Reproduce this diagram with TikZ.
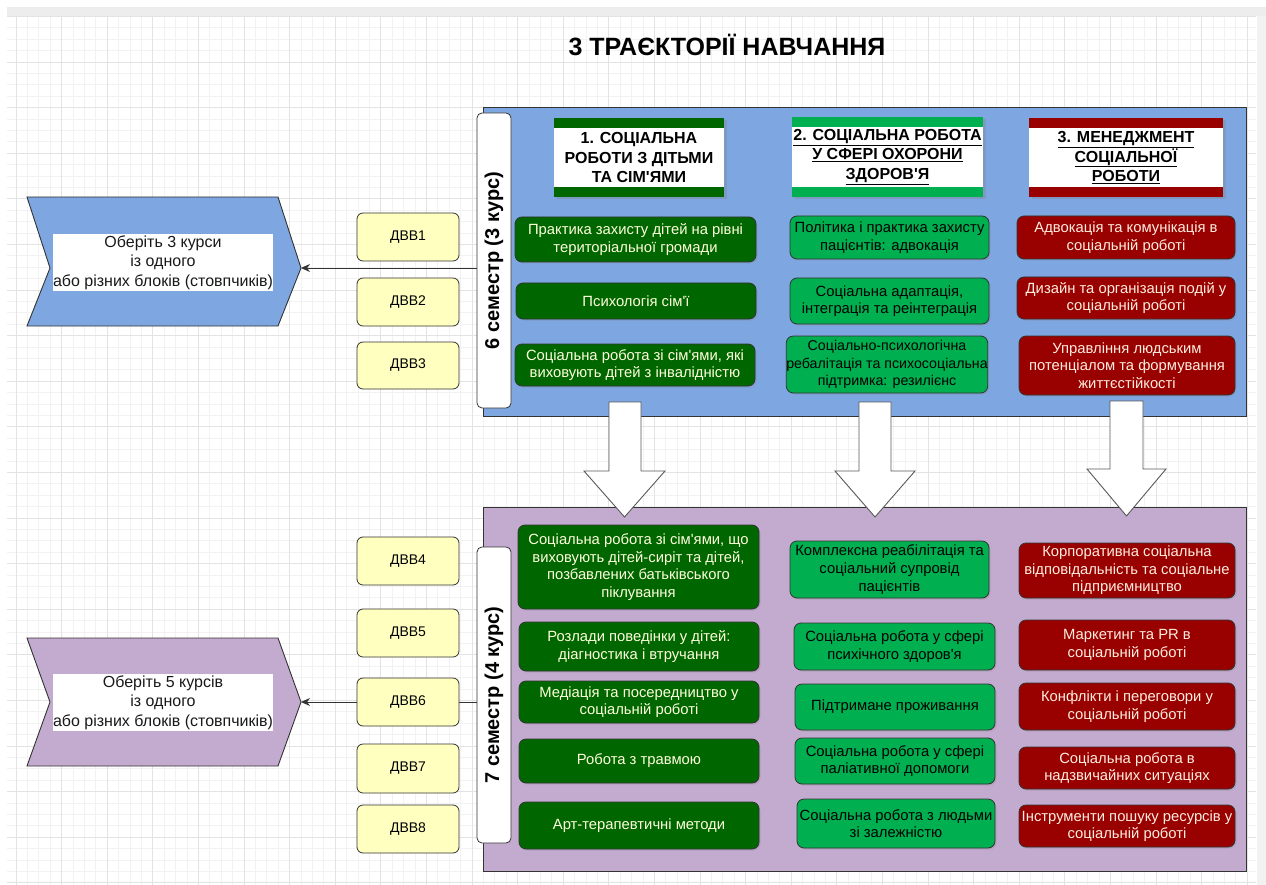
\documentclass[tikz,border=0pt]{standalone}
\usepackage{fontspec}
\setmainfont{Liberation Sans}
\newfontfamily\arialf{Liberation Sans}
\usepackage{graphicx}
\usetikzlibrary{arrows.meta,shadows}
\definecolor{bluebox}{HTML}{7EA6E0}
\definecolor{purplebox}{HTML}{C3ABD0}
\definecolor{dkgreen}{HTML}{006600}
\definecolor{brgreen}{HTML}{00B050}
\definecolor{dkred}{HTML}{990000}
\definecolor{ylw}{HTML}{FFFFC0}
\definecolor{cream}{HTML}{FFFFDD}
\definecolor{pinkc}{HTML}{FFEEE0}
\definecolor{gridmaj}{HTML}{E3E3E3}
\definecolor{gridmin}{HTML}{F2F2F2}
\definecolor{edge}{HTML}{333333}
\newcommand\cardfont{\arialf\fontsize{14.8}{17.6}\selectfont}
\newcommand\smallcardfont{\arialf\fontsize{14.2}{17.6}\selectfont}
\newcommand\hdrfont{\arialf\fontsize{16}{19.5}\selectfont\bfseries}
\newcommand\semfont{\arialf\fontsize{20}{22}\selectfont\bfseries}
\newcommand\dvvfont{\arialf\fontsize{14}{16}\selectfont}
\newcommand\chevfont{\arialf\fontsize{16}{19.5}\selectfont}
\begin{document}
\begin{tikzpicture}[x=1pt,y=-1pt,
  card/.style={draw=edge, line width=0.8pt, rounded corners=7pt, inner sep=0pt, align=center, font=\cardfont,
    drop shadow={opacity=0.25, shadow xshift=1.5pt, shadow yshift=-1.5pt}},
  dg/.style={card, fill=dkgreen, text=cream},
  bg/.style={card, fill=brgreen, text=black},
  rd/.style={card, fill=dkred, text=pinkc},
  hdr/.style={fill=white, inner sep=0pt, align=center, font=\hdrfont,
    drop shadow={opacity=0.3, shadow xshift=2.5pt, shadow yshift=-2.5pt},
    path picture={
      \fill[#1] (path picture bounding box.north west) rectangle ([yshift=-10pt]path picture bounding box.north east);
      \fill[#1] (path picture bounding box.south west) rectangle ([yshift=10pt]path picture bounding box.south east);}},
  dvv/.style={draw=edge, line width=0.8pt, rounded corners=6pt, fill=ylw, minimum width=102pt, font=\dvvfont},
  sem/.style={draw=edge, line width=0.8pt, rounded corners=5pt, fill=white, minimum width=34pt, inner sep=0pt},
  container/.style={draw=edge, line width=1pt},
  bigarrow/.style={draw=black!65, line width=0.9pt, fill=white, line join=miter},
  chev/.style={draw=edge, line width=0.9pt},
  chevtext/.style={fill=white, inner sep=0pt, minimum width=220pt, align=center, font=\chevfont, text=black!90},
  conn/.style={draw=edge, line width=0.9pt, -{Stealth[length=9pt,width=8pt]}}
]
\useasboundingbox (0,0) rectangle (1266,885);
\fill[white] (0,0) rectangle (1266,885);
% grid
\foreach \i in {0,...,108} {\draw[gridmin, line width=0.8pt] ({16+11.4*\i},16) -- ({16+11.4*\i},885);}
\foreach \i in {0,...,76} {\draw[gridmin, line width=0.8pt] (7,{16.4+11.4*\i}) -- (1256,{16.4+11.4*\i});}
\foreach \i in {0,...,27} {\draw[gridmaj, line width=0.8pt] ({16+45.6*\i},16) -- ({16+45.6*\i},885);}
\foreach \i in {0,...,19} {\draw[gridmaj, line width=0.8pt] (7,{16.4+45.6*\i}) -- (1256,{16.4+45.6*\i});}
\fill[black!7] (7,7) rectangle (1266,16);
\fill[black!5] (1257,16) rectangle (1266,885);

% title
\node[font=\arialf\fontsize{25}{28}\selectfont\bfseries] (title) at (727,45) {3 ТРАЄКТОРІЇ НАВЧАННЯ};

% containers
\draw[container, fill=bluebox] (483,108) rectangle (1246,416);
\draw[container, fill=purplebox] (483,507) rectangle (1246,871);

% semester labels
\node[sem, minimum height=295pt] (s6) at (494,260.5) {\rotatebox{90}{\semfont 6 семестр (3 курс)}};
\node[sem, minimum height=296pt] (s7) at (494,695) {\rotatebox{90}{\semfont 7 семестр (4 курс)}};

% chevrons
\draw[chev, fill=bluebox] (27,197) -- (278,197) -- (301,268) -- (278,326) -- (27,326) -- (50,268) -- cycle;
\draw[chev, fill=purplebox] (27,638) -- (278,638) -- (301,702) -- (278,766) -- (27,766) -- (50,702) -- cycle;
\coordinate (tip6) at (301,268);
\coordinate (tip7) at (301,702);
\node[chevtext, minimum height=57pt] (t6) at (163,262.5) {Оберіть 3 курси\\із одного\\або різних блоків (стовпчиків)};
\node[chevtext, minimum height=57pt] (t7) at (163,702.5) {Оберіть 5 курсів\\із одного\\або різних блоків (стовпчиків)};

% connectors
\draw[conn] (s6.west |- tip6) -- (tip6);
\draw[conn] (s7.west |- tip7) -- (tip7);

% DVV boxes
\node[dvv, minimum height=48pt] (v1) at (408,237) {ДВВ1};
\node[dvv, minimum height=48pt] (v2) at (408,302) {ДВВ2};
\node[dvv, minimum height=47pt] (v3) at (408,365.5) {ДВВ3};
\node[dvv, minimum height=48pt] (v4) at (408,561) {ДВВ4};
\node[dvv, minimum height=48pt] (v5) at (408,633) {ДВВ5};
\node[dvv, minimum height=48pt] (v6) at (408,702) {ДВВ6};
\node[dvv, minimum height=49pt] (v7) at (408,768.5) {ДВВ7};
\node[dvv, minimum height=48pt] (v8) at (408,829) {ДВВ8};

% headers
\node[hdr=dkgreen, minimum width=170pt, minimum height=79pt] (h1) at (639,157.5) {1. СОЦІАЛЬНА\\РОБОТИ З ДІТЬМИ\\ТА СІМ'ЯМИ};
\node[hdr=brgreen, minimum width=191pt, minimum height=80pt] (h2) at (887.5,157) {\underline{2. СОЦІАЛЬНА РОБОТА}\\\underline{У СФЕРІ ОХОРОНИ}\\\underline{ЗДОРОВ'Я}};
\node[hdr=dkred, minimum width=194pt, minimum height=79pt] (h3) at (1126,157.5) {\underline{3. МЕНЕДЖМЕНТ}\\\underline{СОЦІАЛЬНОЇ}\\\underline{РОБОТИ}};

% 6th semester cards
\node[dg, minimum width=241pt, minimum height=45pt] (a1) at (635.5,239.5) {Практика захисту дітей на рівні\\територіальної громади};
\node[dg, minimum width=240pt, minimum height=36pt] (a2) at (636,301) {Психологія сім'ї};
\node[dg, minimum width=240pt, minimum height=42pt] (a3) at (635,365) {Соціальна робота зі сім'ями, які\\виховують дітей з інвалідністю};
\node[bg, minimum width=199pt, minimum height=43pt] (b1) at (889.5,237.5) {Політика і практика захисту\\пацієнтів: адвокація};
\node[bg, minimum width=199pt, minimum height=46pt] (b2) at (889.5,301) {Соціальна адаптація,\\інтеграція та реінтеграція};
\node[bg, minimum width=200pt, minimum height=57pt, font=\smallcardfont] (b3) at (887,364.5) {Соціально-психологічна\\ребалітація та психосоціальна\\підтримка: резилієнс};
\node[rd, minimum width=218pt, minimum height=43pt] (c1) at (1126,237.5) {Адвокація та комунікація в\\соціальній роботі};
\node[rd, minimum width=218pt, minimum height=42pt] (c2) at (1126,298) {Дизайн та організація подій у\\соціальній роботі};
\node[rd, minimum width=216pt, minimum height=59pt] (c3) at (1127,365.5) {Управління людським\\потенціалом та формування\\життєстійкості};

% 7th semester cards
\node[dg, minimum width=241pt, minimum height=84pt] (d1) at (638.5,567) {Соціальна робота зі сім'ями, що\\виховують дітей-сиріт та дітей,\\позбавлених батьківського\\піклування};
\node[dg, minimum width=240pt, minimum height=49pt] (d2) at (639,646.5) {Розлади поведінки у дітей:\\діагностика і втручання};
\node[dg, minimum width=240pt, minimum height=42pt] (d3) at (639,702) {Медіація та посередництво у\\соціальній роботі};
\node[dg, minimum width=240pt, minimum height=44pt] (d4) at (639,761) {Робота з травмою};
\node[dg, minimum width=240pt, minimum height=47pt] (d5) at (639,825.5) {Арт-терапевтичні методи};
\node[bg, minimum width=199pt, minimum height=57pt] (e1) at (889.5,569.5) {Комплексна реабілітація та\\соціальний супровід\\пацієнтів};
\node[bg, minimum width=201pt, minimum height=47pt] (e2) at (894.5,646.5) {Соціальна робота у сфері\\психічного здоров'я};
\node[bg, minimum width=200pt, minimum height=46pt] (e3) at (895,707) {Підтримане проживання};
\node[bg, minimum width=200pt, minimum height=46pt] (e4) at (895,761) {Соціальна робота у сфері\\паліативної допомоги};
\node[bg, minimum width=198pt, minimum height=49pt] (e5) at (896,823.5) {Соціальна робота з людьми\\зі залежністю};
\node[rd, minimum width=216pt, minimum height=55pt] (f1) at (1127,570.5) {Корпоративна соціальна\\відповідальність та соціальне\\підприємництво};
\node[rd, minimum width=216pt, minimum height=50pt] (f2) at (1127,645) {Маркетинг та PR в\\соціальній роботі};
\node[rd, minimum width=216pt, minimum height=47pt] (f3) at (1127,706.5) {Конфлікти і переговори у\\соціальній роботі};
\node[rd, minimum width=216pt, minimum height=42pt] (f4) at (1127,768) {Соціальна робота в\\надзвичайних ситуаціях};
\node[rd, minimum width=216pt, minimum height=42pt] (f5) at (1127,826) {Інструменти пошуку ресурсів у\\соціальній роботі};

% big arrows between semesters
\draw[bigarrow] (609,402) -- (641,402) -- (641,471) -- (665,471) -- (624.5,517) -- (584,471) -- (609,471) -- cycle;
\draw[bigarrow] (859,402) -- (891,402) -- (891,471) -- (915,471) -- (875,517) -- (835,471) -- (859,471) -- cycle;
\draw[bigarrow] (1110,401) -- (1143,401) -- (1143,469) -- (1166,469) -- (1126.5,516) -- (1087,469) -- (1110,469) -- cycle;
\end{tikzpicture}
\end{document}
